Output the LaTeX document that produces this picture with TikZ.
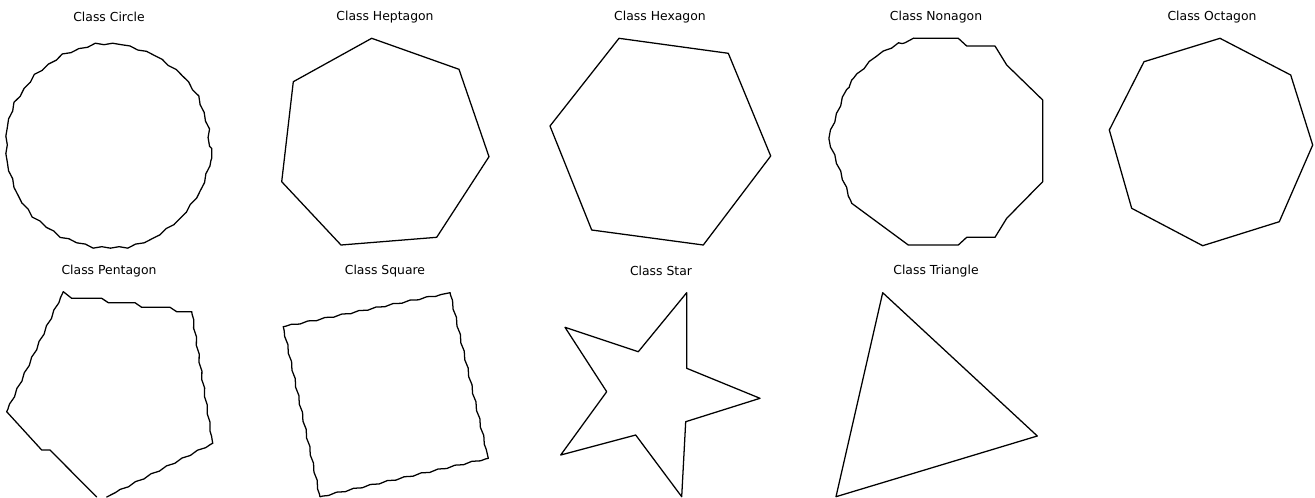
\documentclass[tikz,border=0pt]{standalone}
\usepackage{fontspec}
\setmainfont{DejaVu Sans}
\usepackage{tikz}
\usetikzlibrary{
    calc,
    decorations.pathmorphing
}

\tikzset{
    outline/.style={line width=0.95pt, line join=round, line cap=round},
    wavy/.style={outline, decorate, decoration={snake, amplitude=0.55pt, segment length=13pt, pre length=2pt, post length=2pt}},
    title/.style={font=\fontsize{9.3pt}{11pt}\selectfont, inner sep=0pt}
}

\begin{document}
\begin{tikzpicture}[x=0.75pt, y=-0.75pt]

\useasboundingbox (0,0) rectangle (1315,497);

% Titles, top row
\node[title] (tcircle) at (109,17) {Class Circle};
\node[title] (theptagon) at (385,17) {Class Heptagon};
\node[title] (thexagon) at (660,17) {Class Hexagon};
\node[title] (tnonagon) at (936,17) {Class Nonagon};
\node[title] (toctagon) at (1212,17) {Class Octagon};

% Titles, bottom row
\node[title] (tpentagon) at (109,271) {Class Pentagon};
\node[title] (tsquare) at (385,271) {Class Square};
\node[title] (tstar) at (661,271) {Class Star};
\node[title] (ttriangle) at (936,271) {Class Triangle};

% Circle
\draw[wavy] plot[samples=21, domain=9:369] ({110+103*cos(\x)},{142+103*sin(\x)});

% Heptagon
\draw[outline] (371.7,38.3) -- (459,69.3) -- (489,156.7) -- (436.7,237.3)
    -- (341,245) -- (281.7,181.7) -- (293.3,81.7) -- cycle;

% Hexagon
\draw[outline] (619,38.3) -- (728.3,53.3) -- (770.7,156) -- (703.3,245)
    -- (591.7,230) -- (550,126) -- cycle;

% Nonagon
\draw[outline] (913.3,38.3) -- (958.3,38.3) -- (966.7,46) -- (995,46)
    -- (1006.7,65) -- (1042.7,100) -- (1042.7,181.7) -- (1006.7,218.3)
    -- (995,237.3) -- (966.7,237.3) -- (958.3,245) -- (908.3,245)
    -- (851.7,203.3);
\draw[wavy] (851.7,203.3) -- (829.3,141.7) -- (851.7,80);
\draw[wavy] (851.7,80) -- (870,61.7) -- (913.3,38.3);

% Octagon
\draw[outline] (1220,38.3) -- (1290.7,75) -- (1312.7,145) -- (1279.3,221.7)
    -- (1202.7,245.7) -- (1131.7,208.3) -- (1109.3,130) -- (1144,61.7) -- cycle;

% Pentagon
\draw[outline] (63.3,291.7) -- (71.7,298.3) -- (101.7,298.3) -- (108.3,302.7)
    -- (135,302.7) -- (141.7,307.3) -- (170,307.3) -- (176.7,311.7) -- (191.7,311.7);
\draw[wavy] (191.7,311.7) -- (212.7,443.3);
\draw[wavy] (212.7,443.3) -- (106.7,497);
\draw[outline] (96.7,497) -- (50,450) -- (41.7,450) -- (6.7,411.7);
\draw[wavy] (6.7,411.7) -- (63.3,291.7);

% Square
\draw[wavy] (283.3,326.7) -- (450,292.7);
\draw[wavy] (450,292.7) -- (488.3,458.3);
\draw[wavy] (488.3,458.3) -- (320,496.7);
\draw[wavy] (320,496.7) -- (283.3,326.7);

% Star
\draw[outline] (686.7,292.7) -- (686.7,368.3) -- (760,398.3) -- (685.7,421.7)
    -- (681.7,496.7) -- (635.7,435) -- (560.7,455) -- (606.7,391.7)
    -- (565,327.3) -- (638.3,351.7) -- cycle;

% Triangle
\draw[outline] (882.7,292.7) -- (1037.3,436) -- (836,496.7) -- cycle;

\end{tikzpicture}
\end{document}
